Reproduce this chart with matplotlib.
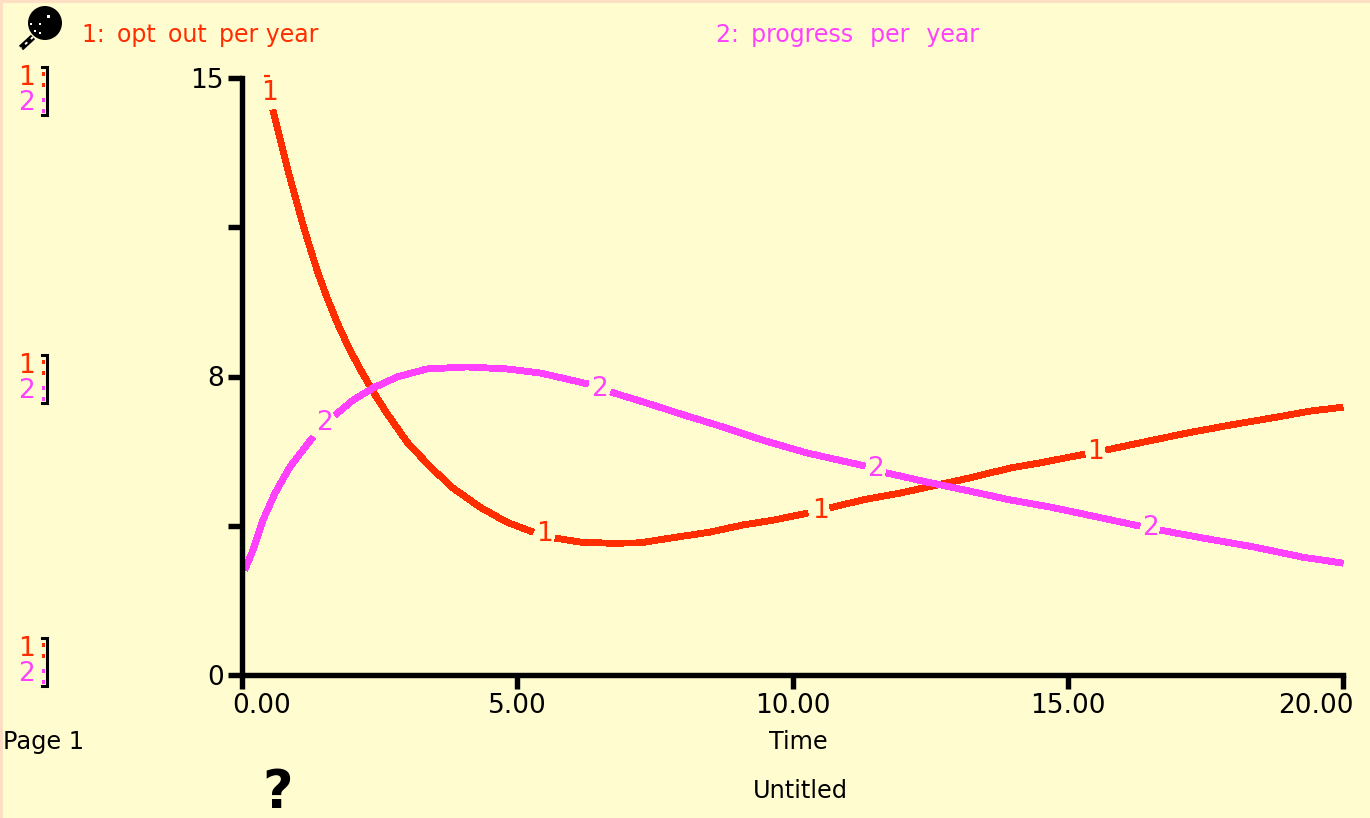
import numpy as np
import matplotlib
matplotlib.use("Agg")
import matplotlib.pyplot as plt
from matplotlib.patches import Circle, Rectangle
from matplotlib.transforms import ScaledTranslation

##############################
# 1: data (nan = break in the curve where a number label sits)
##############################

nan = float("nan")

time_1 = [0.56, 0.64, 0.75, 0.84, 0.96, 1.09, 1.22, 1.38, 1.54, 1.73, 1.93, 2.14, 2.38, 2.63, 3.00, 3.42,
          3.83, 4.32, 4.81, 5.29, 5.5, 5.69, 6.14, 6.70, 7.23, 7.78, 8.50, 9.10, 9.65, 10.28, 10.5, 10.68, 11.28,
          11.95, 12.55, 13.28, 13.95, 14.50, 15.31, 15.5, 15.69, 16.37, 17.17, 17.95, 18.80, 19.40, 20.00]
opt_out = [14.20, 13.75, 13.15, 12.65, 12.05, 11.40, 10.80, 10.10, 9.50, 8.85, 8.25, 7.70, 7.12, 6.58, 5.85, 5.23,
           4.70, 4.22, 3.84, 3.59, nan, 3.44, 3.34, 3.31, 3.32, 3.44, 3.59, 3.77, 3.89, 4.07, nan, 4.20, 4.40,
           4.57, 4.75, 4.97, 5.20, 5.33, 5.55, nan, 5.65, 5.85, 6.08, 6.28, 6.48, 6.63, 6.73]

time_2 = [0.05, 0.20, 0.38, 0.60, 0.87, 1.29, 1.5, 1.69, 2.02, 2.38, 2.82, 3.36, 4.09, 4.81, 5.41, 6.14, 6.29,
          6.5, 6.70, 7.36, 8.08, 8.74, 9.46, 10.26, 11.32, 11.5, 11.70, 12.37, 13.22, 13.95, 14.68, 15.64,
          16.31, 16.5, 16.68, 17.46, 18.37, 19.27, 20.00]
progress = [2.64, 3.14, 3.89, 4.57, 5.23, 5.98, nan, 6.53, 6.91, 7.21, 7.49, 7.69, 7.74, 7.69, 7.59, 7.36, 7.31,
            nan, 7.11, 6.83, 6.51, 6.23, 5.90, 5.58, 5.25, nan, 5.08, 4.87, 4.62, 4.40, 4.22, 3.94,
            3.74, nan, 3.64, 3.44, 3.22, 2.96, 2.81]

label_time_1 = [0.5, 5.5, 10.5, 15.5]
label_val_1 = [14.62, 3.54, 4.12, 5.60]
label_time_2 = [1.5, 6.5, 11.5, 16.5]
label_val_2 = [6.33, 7.19, 5.18, 3.69]

x_ticks = [0, 5, 10, 15, 20]
x_tick_labels = ["0.00", "5.00", "10.00", "15.00", "20.00"]
y_ticks = [0, 3.75, 7.5, 11.25, 15]
y_tick_labels = ["0", "", "8", "", "15"]

##############################
# 2: figure
##############################

W, H = 1370, 818
BG = "#FFFDD0"
EDGE = "#FFDFC4"
RED = "#FF2D00"
PINK = "#FF40FF"
FS = 17.3
FS_NUM = 19

plt.rcParams["font.family"] = ["DejaVu Sans"]

fig = plt.figure(figsize=(W / 100, H / 100), dpi=100, facecolor=BG)

# overlay in pixel coordinates for the window furniture
deco = fig.add_axes([0, 0, 1, 1])
deco.set_xlim(0, W)
deco.set_ylim(H, 0)
deco.axis("off")
deco.add_patch(Rectangle((0, 0), W, 3, color=EDGE, lw=0))
deco.add_patch(Rectangle((0, 0), 3, H, color=EDGE, lw=0))

ax = fig.add_axes([242 / W, (H - 675) / H, 1101 / W, 597 / H])
ax.patch.set_alpha(0)
ax.set_xlim(0, 20)
ax.set_ylim(0, 15)
for side in ["top", "right"]:
    ax.spines[side].set_visible(False)
for side in ["left", "bottom"]:
    ax.spines[side].set_linewidth(3.9)

ax.plot(time_1, opt_out, color=RED, lw=4.2, solid_capstyle="butt", clip_on=False, antialiased=False)
ax.plot(time_2, progress, color=PINK, lw=4.2, solid_capstyle="butt", clip_on=False, antialiased=False)

for t, v in zip(label_time_1, label_val_1):
    ax.text(t, v, "1", color=RED, fontsize=FS_NUM, ha="center", va="center")
for t, v in zip(label_time_2, label_val_2):
    ax.text(t, v, "2", color=PINK, fontsize=FS_NUM, ha="center", va="center")

ax.set_xticks(x_ticks)
ax.set_xticklabels(x_tick_labels, fontsize=FS_NUM)
ax.set_yticks(y_ticks)
ax.set_yticklabels(y_tick_labels, fontsize=FS_NUM)
ax.tick_params(axis="both", length=10, width=3.9, direction="out", pad=3)

# end labels are pulled in so they stay inside the plot width
xlabels = ax.get_xticklabels()
xlabels[0].set_transform(xlabels[0].get_transform() + ScaledTranslation(20 / 100, 0, fig.dpi_scale_trans))
xlabels[-1].set_transform(xlabels[-1].get_transform() + ScaledTranslation(-27 / 100, 0, fig.dpi_scale_trans))

##############################
# 3: texts around the plot
##############################

deco.text(82, 35, "1:\u2009 opt\u2009 out\u2009 per year", color=RED, fontsize=17, va="center")
deco.text(716, 35, "2:\u2009 progress\u2009\u2009 per\u2009\u2009 year", color=PINK, fontsize=17, va="center")
deco.text(3, 742, "Page 1", color="black", fontsize=FS, va="center")
deco.text(798, 742, "Time", color="black", fontsize=FS, ha="center", va="center")
deco.text(800, 791, "Untitled", color="black", fontsize=FS, ha="center", va="center")
deco.text(278, 793, "?", color="black", fontsize=38, fontweight="bold", ha="center", va="center")

# short dash left over at the top of the first curve label
deco.plot([264, 270], [76, 76], color=RED, lw=1.6, solid_capstyle="butt")

# small scale brackets on the left
for top in [67, 355, 638]:
    deco.text(27, top + 11, "1", color=RED, fontsize=FS_NUM, ha="center", va="center")
    deco.text(27, top + 36, "2", color=PINK, fontsize=FS_NUM, ha="center", va="center")
    deco.plot([42, 47, 47, 42], [top, top, top + 48, top + 48], color="black", lw=2.2, solid_joinstyle="miter")
    for off, col in [(7, RED), (18, RED), (33, PINK), (44, PINK)]:
        deco.add_patch(Rectangle((42, top + off - 2), 3, 4, color=col, lw=0))

# magnifier icon
deco.add_patch(Circle((45, 23), 17, color="black", lw=0))
deco.plot([33, 21], [37, 48], color="black", lw=4.4, solid_capstyle="butt")
deco.plot([33, 21], [37, 48], color="white", lw=1.4, dashes=(1.5, 2.5))
for px, py, size in [(49, 16, 3), (40, 24, 2), (31, 24, 2), (35, 31, 2), (40, 33, 2)]:
    deco.add_patch(Rectangle((px - size / 2, py - size / 2), size, size, color="white", lw=0))

fig.savefig("out.png", dpi=100, facecolor=BG)
